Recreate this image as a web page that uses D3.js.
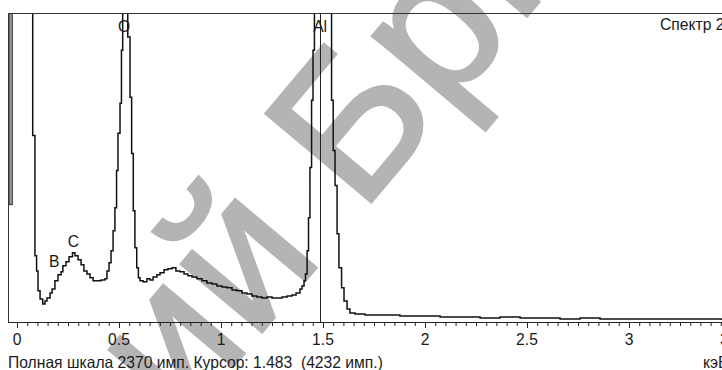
<!DOCTYPE html>
<html>
<head>
<meta charset="utf-8">
<script src="https://cdn.jsdelivr.net/npm/d3@7"></script>
<style>
  body { margin: 0; background: #fff; }
  svg { display: block; }
  text { font-family: "Liberation Sans", Arial, sans-serif; fill: #1a1a1a; }
</style>
</head>
<body>
<div id="chart"></div>
<script>
// spectrum (keV, counts); values above 2370 are off scale
const energy = [-0.023, 0.077, 0.088, 0.096, 0.103, 0.113, 0.126, 0.137, 0.147, 0.162, 0.172, 0.186,
  0.201, 0.216, 0.225, 0.240, 0.255, 0.272, 0.284, 0.299, 0.314, 0.328, 0.343, 0.358, 0.373, 0.392,
  0.412, 0.431, 0.441, 0.451, 0.461, 0.471, 0.480, 0.488, 0.495, 0.505, 0.512, 0.518, 0.529, 0.543,
  0.554, 0.562, 0.570, 0.578, 0.587, 0.595, 0.603, 0.618, 0.637, 0.652, 0.667, 0.686, 0.701, 0.721,
  0.740, 0.760, 0.779, 0.799, 0.819, 0.838, 0.858, 0.882, 0.907, 0.931, 0.956, 0.980, 1.005, 1.029,
  1.054, 1.078, 1.103, 1.127, 1.152, 1.176, 1.201, 1.225, 1.250, 1.275, 1.299, 1.324, 1.348, 1.368,
  1.387, 1.397, 1.407, 1.414, 1.422, 1.429, 1.436, 1.444, 1.451, 1.458, 1.483, 1.495, 1.515, 1.534,
  1.542, 1.550, 1.559, 1.569, 1.578, 1.591, 1.603, 1.618, 1.632, 1.657, 1.706, 1.779, 1.877, 1.975,
  2.074, 2.172, 2.270, 2.368, 2.466, 2.564, 2.662, 2.760, 2.858, 2.956, 3.054, 3.152, 3.250, 3.348, 3.456];
const counts = [6000, 1431, 508, 392, 239, 177, 139, 162, 185, 223, 254, 316,
  362, 385, 431, 462, 500, 531, 508, 477, 439, 392, 369, 339, 316, 316,
  323, 331, 392, 454, 546, 700, 877, 1162, 1447, 1678, 2085, 3000, 3200, 2185,
  1724, 1293, 854, 569, 416, 339, 316, 308, 331, 323, 346, 362, 377, 400,
  408, 416, 392, 385, 369, 354, 346, 331, 316, 300, 292, 277, 269, 262,
  246, 239, 223, 215, 200, 192, 185, 192, 185, 185, 192, 200, 208, 223,
  254, 277, 316, 369, 546, 800, 1185, 1700, 2085, 3500, 4232, 4100, 3500, 2400,
  1700, 1316, 1047, 677, 416, 262, 162, 100, 69, 62, 54, 54, 46, 46,
  38, 38, 31, 38, 31, 31, 23, 31, 23, 23, 23, 23, 23, 23, 15];

// zero strobe bar at the left edge
const zeroPeakFrom = -0.039, zeroPeakTo = -0.023, zeroPeakCounts = 900;

const lineLabels = ['B', 'C', 'O', 'Al'];
const lineEnergies = [0.183, 0.277, 0.525, 1.486];
const labelCounts = [423, 577, 2224, 2224];

const tickLabels = ['0', '0.5', '1', '1.5', '2', '2.5', '3', '3.5'];
const fullScale = 2370;
const cursorKeV = 1.483;
const cursorCounts = 4232;
const spectrumName = 'Спектр 2';
const unitLabel = 'кэВ';
const statusText = 'Полная шкала ' + fullScale + ' имп. Курсор: ' + cursorKeV.toFixed(3) + '  (' + cursorCounts + ' имп.)';
const watermark = 'Репозиторий БрГТУ';

const width = 722, height = 370;
const plot = {left: 8, top: 13, right: 722, bottom: 322};

const svg = d3.select('#chart').append('svg')
  .attr('width', width)
  .attr('height', height);

const x = d3.scaleLinear().domain([0, 3.5]).range([17, 17 + 3.5 * 204]);
const y = d3.scaleLinear().domain([0, fullScale]).range([plot.bottom, plot.top]);

// watermark, under everything; the stem of "Б" is pinned where it sits in the picture
const wmSize = 200, wmAngle = 50;
const wm = svg.append('text')
  .attr('font-size', wmSize)
  .style('fill', '#b4b4b4')
  .style('stroke', '#b4b4b4')
  .style('stroke-width', 3)
  .text(watermark);
const ext = wm.node().getExtentOfChar(watermark.indexOf('Б'));
const a = wmAngle * Math.PI / 180;
const lx = ext.x + 0.127 * wmSize, ly = 0;
const rx = lx * Math.cos(a) + ly * Math.sin(a);
const ry = -lx * Math.sin(a) + ly * Math.cos(a);
wm.attr('transform', 'translate(' + (377 - rx) + ',' + (195 - ry) + ') rotate(' + (-wmAngle) + ')');

svg.append('clipPath').attr('id', 'plotclip')
  .append('rect')
  .attr('x', plot.left).attr('y', plot.top)
  .attr('width', plot.right - plot.left).attr('height', plot.bottom - plot.top);

const g = svg.append('g').attr('clip-path', 'url(#plotclip)');

g.append('rect')
  .attr('x', x(zeroPeakFrom))
  .attr('y', y(fullScale))
  .attr('width', x(zeroPeakTo) - x(zeroPeakFrom))
  .attr('height', y(zeroPeakCounts) - y(fullScale))
  .attr('fill', '#9a9a9a')
  .attr('stroke', '#333')
  .attr('stroke-width', 1);

const line = d3.line()
  .x(function(d, i) { return x(energy[i]); })
  .y(function(d) { return y(d); })
  .curve(d3.curveStepAfter);

g.append('path')
  .datum(counts)
  .attr('fill', 'none')
  .attr('stroke', '#111')
  .attr('stroke-width', 1.5)
  .attr('d', line);

// cursor
svg.append('line')
  .attr('x1', Math.round(x(cursorKeV)) + 0.5).attr('x2', Math.round(x(cursorKeV)) + 0.5)
  .attr('y1', plot.top).attr('y2', plot.bottom)
  .attr('stroke', '#222');

// frame
svg.append('path')
  .attr('d', 'M' + plot.right + ',' + (plot.top + 0.5) + 'H' + (plot.left + 0.5) + 'V' + plot.bottom)
  .attr('fill', 'none')
  .attr('stroke', '#333');

const xAxis = d3.axisBottom(x)
  .tickValues(d3.range(0, 71).map(function(i) { return i * 0.05; }))
  .tickSize(4)
  .tickFormat('');

svg.append('g')
  .attr('class', 'x axis')
  .attr('transform', 'translate(0,' + plot.bottom + ')')
  .call(xAxis)
  .call(function(s) {
    s.select('.domain').attr('d', 'M' + plot.left + ',0.5H' + plot.right).attr('stroke', '#222');
    s.selectAll('.tick line').attr('stroke', '#222')
      .attr('y2', function(d) { return Math.abs(d * 2 - Math.round(d * 2)) < 1e-6 ? 6 : 4; });
  });

// status line; sized to the width it has in the picture
const status = svg.append('text')
  .attr('x', plot.left)
  .attr('y', 368)
  .attr('font-size', 13)
  .style('white-space', 'pre')
  .text(statusText);
const fs = 13 * 375 / status.node().getComputedTextLength();
status.attr('font-size', fs);

svg.append('g').selectAll('text')
  .data(tickLabels)
  .join('text')
  .attr('x', function(d) { return x(+d); })
  .attr('y', 345)
  .attr('text-anchor', 'middle')
  .attr('font-size', fs)
  .text(function(d) { return d; });

svg.append('text')
  .attr('x', 703).attr('y', 368)
  .attr('font-size', fs)
  .text(unitLabel);

svg.append('text')
  .attr('x', 660).attr('y', 30)
  .attr('font-size', fs)
  .text(spectrumName);

svg.append('g').selectAll('text')
  .data(lineLabels)
  .join('text')
  .attr('x', function(d, i) { return x(lineEnergies[i]); })
  .attr('y', function(d, i) { return y(labelCounts[i]); })
  .attr('text-anchor', 'middle')
  .attr('font-size', fs)
  .text(function(d) { return d; });
</script>
</body>
</html>
